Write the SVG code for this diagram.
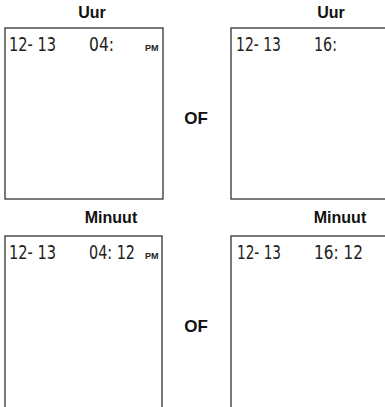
<svg xmlns="http://www.w3.org/2000/svg" width="385" height="407" viewBox="0 0 385 407">
<style>
.box{fill:#fff;stroke:#333;stroke-width:1.3}
.lbl{font-family:"Liberation Sans",Arial,sans-serif;font-weight:bold;font-size:16px;fill:#111;text-anchor:middle}
.of{font-family:"Liberation Sans",Arial,sans-serif;font-weight:bold;font-size:17px;fill:#111;text-anchor:middle}
.lcd{font-family:"Liberation Sans Narrow","DejaVu Sans Condensed",sans-serif;font-size:19px;fill:#222}
.pm{font-family:"Liberation Sans",Arial,sans-serif;font-weight:bold;font-size:9px;fill:#222}
</style>
<rect width="385" height="407" fill="#fff"/>
<g id="hour12">
<text class="lbl" x="92" y="18">Uur</text>
<rect class="box" x="5" y="28" width="158" height="171"/>
<text class="lcd" x="9" y="51" textLength="47" lengthAdjust="spacingAndGlyphs">12- 13</text>
<text class="lcd" x="89" y="51" textLength="25" lengthAdjust="spacingAndGlyphs">04:</text>
<text class="pm" x="145" y="51">PM</text>
</g>
<g id="hour24">
<text class="lbl" x="331" y="18">Uur</text>
<rect class="box" x="231" y="28" width="160" height="171"/>
<text class="lcd" x="236" y="51" textLength="45" lengthAdjust="spacingAndGlyphs">12- 13</text>
<text class="lcd" x="314" y="51" textLength="23" lengthAdjust="spacingAndGlyphs">16:</text>
</g>
<text class="of" x="196" y="124">OF</text>
<g id="min12">
<text class="lbl" x="111" y="223">Minuut</text>
<rect class="box" x="5" y="236" width="157" height="180"/>
<text class="lcd" x="9" y="259" textLength="47" lengthAdjust="spacingAndGlyphs">12- 13</text>
<text class="lcd" x="89" y="259" textLength="46" lengthAdjust="spacingAndGlyphs">04: 12</text>
<text class="pm" x="145" y="259">PM</text>
</g>
<g id="min24">
<text class="lbl" x="340" y="223">Minuut</text>
<rect class="box" x="231" y="236" width="160" height="180"/>
<text class="lcd" x="237" y="259" textLength="44" lengthAdjust="spacingAndGlyphs">12- 13</text>
<text class="lcd" x="314" y="259" textLength="49" lengthAdjust="spacingAndGlyphs">16: 12</text>
</g>
<text class="of" x="196" y="332">OF</text>
<g id="connectors"></g>
</svg>
